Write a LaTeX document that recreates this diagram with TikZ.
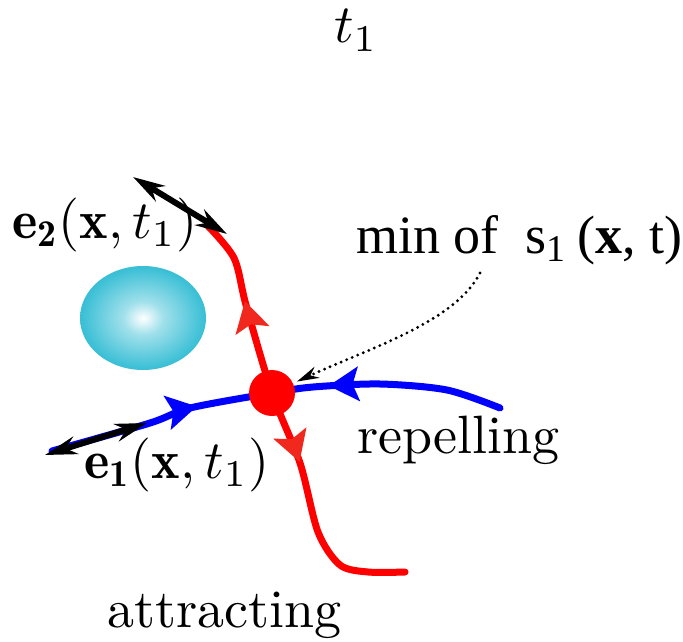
\documentclass[tikz,border=0pt]{standalone}
\usepackage{fontspec}
\newfontfamily\labelfont{Liberation Serif}
\usetikzlibrary{arrows.meta,decorations.markings,shapes.geometric,positioning}
\definecolor{ballcyan}{RGB}{18,178,205}
\definecolor{headred}{RGB}{240,40,30}
\pgfdeclareradialshading{ballshade}{\pgfpoint{0bp}{0bp}}{color(0bp)=(white); color(8bp)=(white!60!ballcyan); color(24bp)=(white!18!ballcyan); color(50bp)=(ballcyan!92!black)}

\begin{document}
\begin{tikzpicture}[x=0.5pt,y=-0.5pt]
    % Define styles
    \tikzstyle{lbl}=[inner sep=0pt, anchor=base west, scale=2.7, transform shape]
    \tikzstyle{manifold}=[line width=3.5pt, line cap=round]
    \tikzstyle{eigvec}=[line width=3pt, {Stealth[length=16pt,width=9pt]}-{Stealth[length=16pt,width=9pt]}]
    \tikzstyle{fixpt}=[circle, fill=red, minimum size=23pt, inner sep=0pt]
    \tikzstyle{ball}=[ellipse, minimum width=63pt, minimum height=52pt, inner sep=0pt, shading=ballshade]
    \tikzstyle{pointer}=[line width=1.6pt, line cap=round, dash pattern=on 0pt off 3pt,
        -{Stealth[length=11pt,width=6pt]}, shorten >=2pt]
    \tikzstyle{blue flow}=[postaction={decorate}, decoration={markings,
        mark=at position 0.33 with {\arrow{Stealth[length=15pt,width=17pt,inset=3pt]}},
        mark=at position 0.62 with {\arrowreversed{Stealth[length=15pt,width=17pt,inset=3pt]}}}]
    \tikzstyle{red flow}=[postaction={decorate}, decoration={markings,
        mark=at position 0.2 with {\arrowreversed[color=headred]{Stealth[length=15pt,width=17pt,inset=3pt]}},
        mark=at position 0.59 with {\arrow[color=headred]{Stealth[length=15pt,width=17pt,inset=3pt]}}}]

    \useasboundingbox (0,0) rectangle (683,641);

    % Obstacle
    \node[ball] (blob) at (143,318) {};

    % Fixed point and end points
    \coordinate (fp) at (272,393);
    \coordinate (e2a) at (133,177);
    \coordinate (e2b) at (227,234);
    \coordinate (e1a) at (45,455);
    \coordinate (e1b) at (147,423);
    \coordinate (ptr) at (480,273);

    % Draw manifolds
    \draw[manifold, blue, blue flow] plot[smooth] coordinates
        {(52,451) (150,423) (190,408) (fp.center) (313,387) (380,384) (447,390) (500,408)};
    \draw[manifold, red, red flow] plot[smooth, tension=0.5] coordinates
        {(207,225) (234,258) (246,305) (fp.center) (300,463) (318,532) (340,565) (368,572) (405,572)};

    % Eigenvectors
    \draw[eigvec] (e2a) -- (e2b);
    \draw[eigvec] (e1a) -- (e1b);

    \node[fixpt] (dot) at (fp) {};

    % Labels
    \node[lbl] (time) at (333,43) {$t_1$};
    \node[lbl] (e2lbl) at (11,238) {$\mathbf{e}_{\mathbf{2}}(\mathbf{x},t_1)$};
    \node[lbl] (e1lbl) at (83,478) {$\mathbf{e}_{\mathbf{1}}(\mathbf{x},t_1)$};
    \node[lbl] (rep) at (356,453) {repelling};
    \node[lbl] (att) at (106,627) {attracting};
    \node[lbl, font=\labelfont] (minlbl) at (355,253) {min of~ s\textsubscript{1}\,(\textbf{x}, t)};

    \draw[pointer] (ptr) .. controls (455,322) and (370,348) .. (dot);
\end{tikzpicture}
\end{document}
